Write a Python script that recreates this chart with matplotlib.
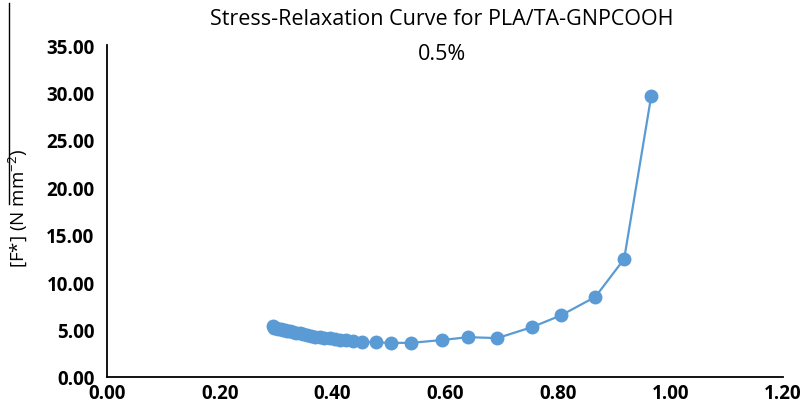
'''stress-relaxation curve, PLA/TA-GNPCOOH 0.5%'''
import numpy as np
import matplotlib.pyplot as plt
from matplotlib import rcParams
from matplotlib.lines import Line2D

params = {'font.family': ['Open Sans', 'DejaVu Sans'], 'font.size': 12,
          'mathtext.fontset': 'custom', 'mathtext.rm': 'Open Sans',
          'mathtext.bf': 'Open Sans:bold'}
rcParams.update(params)

# strain ratio vs [F*]
strain = [0.295, 0.297, 0.300, 0.304, 0.308, 0.312, 0.316, 0.320, 0.325, 0.330,
          0.336, 0.342, 0.348, 0.355, 0.362, 0.370, 0.378, 0.386, 0.395, 0.404,
          0.414, 0.425, 0.437, 0.452, 0.477, 0.504, 0.540, 0.595, 0.641, 0.693,
          0.755, 0.806, 0.867, 0.918, 0.966]
stress = [5.40, 5.15, 5.20, 5.10, 5.02, 4.98, 4.92, 4.86, 4.80, 4.74,
          4.66, 4.60, 4.52, 4.42, 4.34, 4.25, 4.18, 4.12, 4.06, 4.00,
          3.94, 3.88, 3.82, 3.74, 3.65, 3.60, 3.60, 3.90, 4.20, 4.10,
          5.27, 6.50, 8.45, 12.44, 29.60]

xticks = [0.0, 0.2, 0.4, 0.6, 0.8, 1.0, 1.2]
yticks = [0, 5, 10, 15, 20, 25, 30, 35]

blue = '#5b9bd5'

fig = plt.figure(figsize=(8.06, 4.06), dpi=100)
ax = fig.add_axes([107/806, 1 - 378/406, 676/806, 332/406])

ax.plot(strain, stress, color=blue, linewidth=1.6, marker='o',
        markersize=9, markerfacecolor=blue, markeredgecolor=blue)

ax.set_xlim(0, 1.2)
ax.set_ylim(0, 35)
ax.set_xticks(xticks)
ax.set_yticks(yticks)
ax.set_xticklabels(['%.2f' % v for v in xticks])
ax.set_yticklabels(['%.2f' % v for v in yticks])
for lab in ax.get_xticklabels() + ax.get_yticklabels():
    lab.set_fontweight('bold')
    lab.set_fontsize(13.5)
ax.tick_params(axis='x', length=0, pad=4)
ax.tick_params(axis='y', length=0, pad=9)

for s in ['top', 'right']:
    ax.spines[s].set_visible(False)
for s in ['left', 'bottom']:
    ax.spines[s].set_color('black')
    ax.spines[s].set_linewidth(1.3)

ax.set_ylabel('[F*] (N mm$^{-2}$)', fontsize=13.5)
ax.yaxis.set_label_coords(-(107 - 30) / 676, 0.51)

fig.text(0.548, 0.952, 'Stress-Relaxation Curve for PLA/TA-GNPCOOH',
         ha='center', va='center', fontsize=15.5)
fig.text(0.548, 0.865, '0.5%', ha='center', va='center', fontsize=15.5)

# thin rule at the left edge
fig.add_artist(Line2D([9/806, 9/806], [1 - 4/406, 1 - 205/406],
                      color='black', linewidth=1))

fig.savefig('out.png', dpi=100)
